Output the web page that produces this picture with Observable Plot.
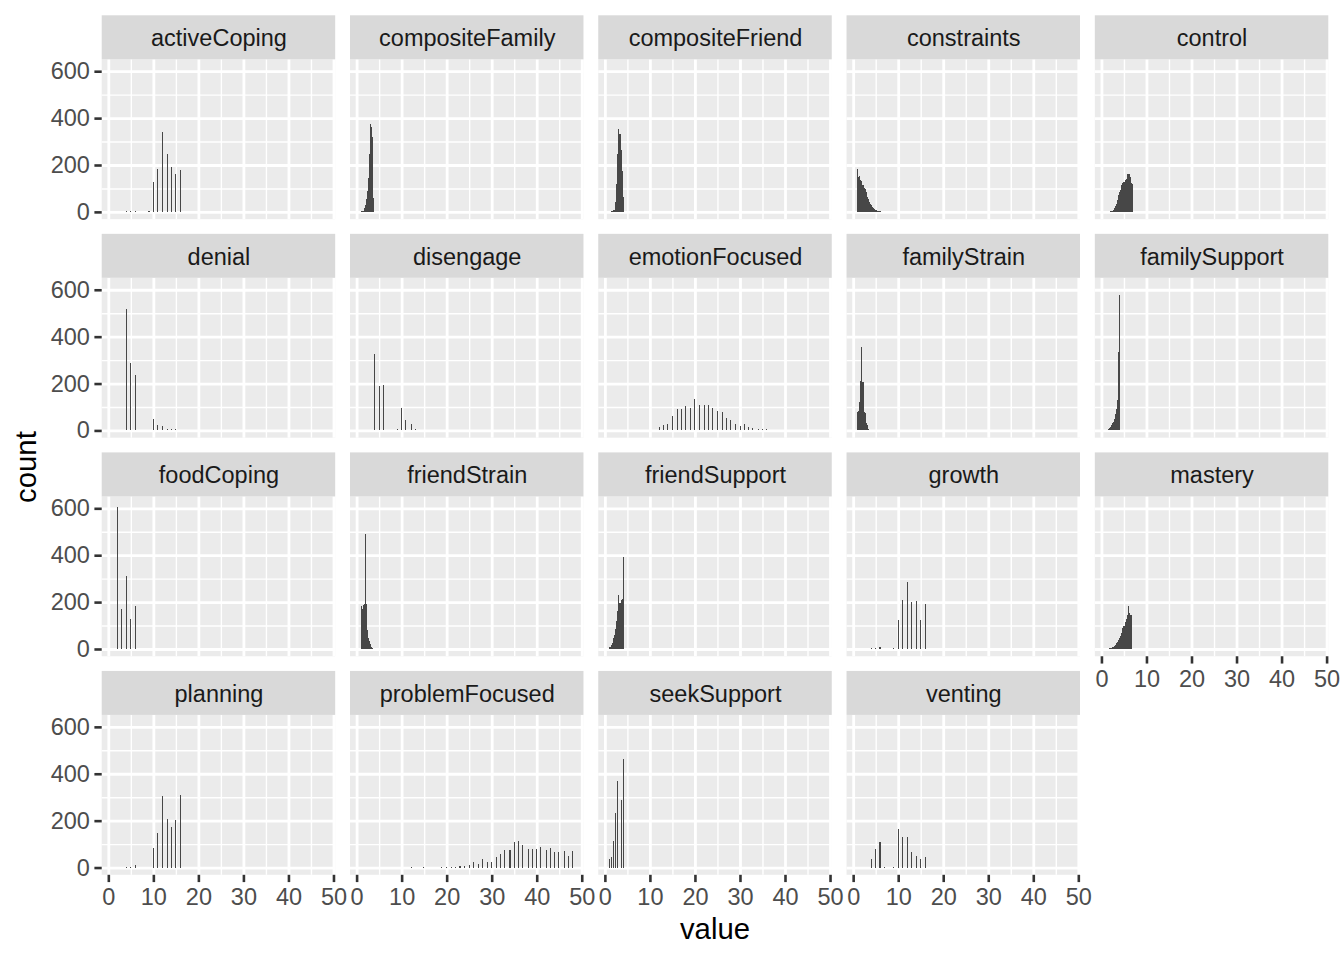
<!DOCTYPE html>
<html><head><meta charset="utf-8">
<script src="https://cdn.jsdelivr.net/npm/d3@7"></script>
<script src="https://cdn.jsdelivr.net/npm/@observablehq/plot@0.6"></script>
<style>
body{margin:0;background:#fff;}
#wrap{width:1344px;height:960px;}
</style></head><body><div id="wrap"></div>
<script>
// ---- facet order (facet_wrap, 5 columns) ----
const facetNames = ["activeCoping","compositeFamily","compositeFriend","constraints","control",
  "denial","disengage","emotionFocused","familyStrain","familySupport",
  "foodCoping","friendStrain","friendSupport","growth","mastery",
  "planning","problemFocused","seekSupport","venting"];

// ---- histogram counts per facet: [value, count] ----
const activeCoping = [[4,3],[5,2],[6,3],[9,3],[10,126],[11,181],[12,339],[13,245],[14,190],[15,160],[16,177]];
const compositeFamily = [[1.00,2],[1.24,3],[1.47,4],[1.71,18],[1.94,30],[2.18,55],[2.42,90],[2.65,145],[2.89,245],[3.13,376],[3.36,364],[3.60,320],[3.83,60]];
const compositeFriend = [[1.47,3],[1.71,4],[1.94,6],[2.18,10],[2.42,43],[2.65,120],[2.89,248],[3.13,352],[3.36,333],[3.60,262],[3.83,174],[4.07,64]];
const constraints = [[1.00,181],[1.24,149],[1.47,152],[1.71,138],[1.94,130],[2.18,113],[2.42,102],[2.65,99],[2.89,85],[3.13,64],[3.36,54],[3.60,43],[3.83,35],[4.07,28],[4.31,21],[4.54,17],[4.78,14],[5.02,10],[5.25,7],[5.49,4],[5.72,3],[5.96,2],[6.20,1],[6.43,1]];
const control = [[1.00,1],[1.94,3],[2.18,4],[2.42,5],[2.65,7],[2.89,18],[3.13,25],[3.36,33],[3.60,50],[3.83,71],[4.07,85],[4.31,95],[4.54,113],[4.78,123],[5.02,128],[5.25,135],[5.49,142],[5.72,160],[5.96,163],[6.20,160],[6.43,150],[6.67,125],[6.90,120]];
const denial = [[4,519],[5,286],[6,236],[7,4],[9,4],[10,48],[11,23],[12,18],[13,6],[14,6],[15,5],[16,3]];
const disengage = [[4,324],[5,188],[6,192],[7,4],[9,7],[10,95],[11,45],[12,28],[13,7],[14,4],[15,3],[16,3]];
const emotionFocused = [[12,16],[13,23],[14,28],[15,62],[16,91],[17,91],[18,105],[19,95],[20,133],[21,109],[22,109],[23,109],[24,96],[25,85],[26,78],[27,51],[28,44],[29,27],[30,21],[31,27],[32,14],[33,10],[34,7],[35,6],[36,6],[37,4],[38,4],[39,4],[40,3],[41,2],[42,2],[43,2],[45,2],[46,1],[48,1]];
const familyStrain = [[1.00,80],[1.24,85],[1.47,120],[1.71,210],[1.94,357],[2.18,205],[2.42,80],[2.65,75],[2.89,30],[3.13,25],[3.36,8],[3.60,4],[3.83,2]];
const familySupport = [[1.00,3],[1.24,4],[1.47,6],[1.71,10],[1.94,15],[2.18,22],[2.42,30],[2.65,38],[2.89,50],[3.13,70],[3.36,90],[3.60,130],[3.83,334],[4.07,579]];
const foodCoping = [[2,607],[3,172],[4,310],[5,130],[6,185]];
const friendStrain = [[1.00,184],[1.24,172],[1.47,186],[1.71,190],[1.94,491],[2.18,190],[2.42,80],[2.65,45],[2.89,35],[3.13,22],[3.36,8],[3.60,3]];
const friendSupport = [[1.00,8],[1.24,10],[1.47,15],[1.71,25],[1.94,45],[2.18,60],[2.42,85],[2.65,120],[2.89,160],[3.13,230],[3.36,195],[3.60,210],[3.83,215],[4.07,393]];
const growth = [[4,4],[5,4],[6,10],[7,2],[9,3],[10,123],[11,210],[12,287],[13,201],[14,206],[15,125],[16,191]];
const mastery = [[1.00,1],[1.24,2],[1.47,2],[1.71,3],[1.94,4],[2.18,6],[2.42,8],[2.65,10],[2.89,14],[3.13,18],[3.36,24],[3.60,30],[3.83,38],[4.07,46],[4.31,56],[4.54,70],[4.78,88],[5.02,100],[5.25,115],[5.49,128],[5.72,146],[5.96,184],[6.20,152],[6.43,146],[6.67,145]];
const planning = [[4,3],[5,2],[6,11],[10,83],[11,146],[12,303],[13,206],[14,172],[15,201],[16,311]];
const problemFocused = [[12,1],[15,2],[19,2],[20,2],[21,2],[22,3],[23,5],[24,5],[25,11],[26,25],[27,15],[28,37],[29,22],[30,25],[31,46],[32,58],[33,75],[34,75],[35,110],[36,113],[37,97],[38,79],[39,79],[40,79],[41,87],[42,76],[43,83],[44,68],[45,68],[46,72],[47,49],[48,72]];
const seekSupport = [[1,37],[1.5,44],[2,113],[2.5,234],[3,370],[3.5,290],[4,463]];
const venting = [[4,37],[5,79],[6,110],[7,3],[9,3],[10,163],[11,130],[12,130],[13,65],[14,51],[15,37],[16,44]];

// ---- ticks ----
const xTicks = [0,10,20,30,40,50];
const xMinorTicks = [5,15,25,35,45];
const yTicks = [0,200,400,600];
const yMinorTicks = [100,300,500];

// ---- histogram binning (200 bins over 1..48) ----
const binMin = 1, binMax = 48, nBins = 200;
const bw = (binMax - binMin) / (nBins - 1);

const seriesByName = {activeCoping, compositeFamily, compositeFriend, constraints, control,
  denial, disengage, emotionFocused, familyStrain, familySupport, foodCoping, friendStrain,
  friendSupport, growth, mastery, planning, problemFocused, seekSupport, venting};

const xDomain = [-1.47, 50.38];
const yLo = -31, yHi = 651, yStrip = 838.5;
const NCOL = 5;

const panels = facetNames.map((name, i) => ({name, col: i % NCOL, row: Math.floor(i / NCOL)}));
const bars = panels.flatMap(p => seriesByName[p.name].map(([v, c]) => {
  const k = Math.round((v - binMin) / bw);
  const center = binMin + k * bw;
  return {col: p.col, row: p.row, x1: center - bw / 2, x2: center + bw / 2, count: c};
}));
const cross = (ticks) => panels.flatMap(p => ticks.map(v => ({col: p.col, row: p.row, v})));

const W = 1344, H = 960, mL = 101.7, mR = 15.7, mT = 15.3, mB = 85.2;
const font = "'Liberation Sans', Arial, Helvetica, sans-serif";

const svg = Plot.plot({
  width: W, height: H,
  marginLeft: mL, marginRight: mR, marginTop: mT, marginBottom: mB,
  style: {fontFamily: font, fontSize: "23.5px", background: "white", overflow: "visible"},
  fx: {domain: [0,1,2,3,4], paddingInner: 0.0596, paddingOuter: 0, round: false, axis: null},
  fy: {domain: [0,1,2,3], paddingInner: 0.0672, paddingOuter: 0, round: false, axis: null},
  x: {domain: xDomain, axis: null},
  y: {domain: [yLo, yStrip], axis: null},
  marks: [
    // panel background
    Plot.rect(panels, {fx: "col", fy: "row", x1: () => xDomain[0], x2: () => xDomain[1], y1: () => yLo, y2: () => yHi, fill: "#EBEBEB"}),
    // minor grid
    Plot.ruleX(cross(xMinorTicks), {fx: "col", fy: "row", x: "v", y1: () => yLo, y2: () => yHi, stroke: "white", strokeWidth: 1.4}),
    Plot.ruleY(cross(yMinorTicks), {fx: "col", fy: "row", y: "v", x1: () => xDomain[0], x2: () => xDomain[1], stroke: "white", strokeWidth: 1.4}),
    // major grid
    Plot.ruleX(cross(xTicks), {fx: "col", fy: "row", x: "v", y1: () => yLo, y2: () => yHi, stroke: "white", strokeWidth: 2.8}),
    Plot.ruleY(cross(yTicks), {fx: "col", fy: "row", y: "v", x1: () => xDomain[0], x2: () => xDomain[1], stroke: "white", strokeWidth: 2.8}),
    // histogram bars
    Plot.rect(bars, {fx: "col", fy: "row", x1: "x1", x2: "x2", y1: () => 0, y2: "count", fill: "#474747", shapeRendering: "crispEdges"}),
    // strips
    Plot.rect(panels, {fx: "col", fy: "row", x1: () => xDomain[0], x2: () => xDomain[1], y1: () => yHi, y2: () => yStrip, fill: "#D9D9D9"}),
    Plot.text(panels, {fx: "col", fy: "row", x: () => (xDomain[0] + xDomain[1]) / 2, y: () => (yHi + yStrip) / 2, text: "name", fill: "#1A1A1A", fontSize: 23.5, dy: 1}),
    // axes
    Plot.axisY({ticks: yTicks, tickSize: 7.3, tickPadding: 5, strokeWidth: 2.6, stroke: "#333333", color: "#4D4D4D", fontSize: 23.5, label: null}),
    Plot.axisX({ticks: xTicks, tickSize: 7.3, tickPadding: 6, strokeWidth: 2.6, stroke: "#333333", color: "#4D4D4D", fontSize: 23.5, label: null})
  ]
});

const s = d3.select(svg);
s.append("text")
  .attr("x", (mL + W - mR) / 2).attr("y", 939)
  .attr("text-anchor", "middle").attr("font-family", font).attr("font-size", 29.3).attr("fill", "#000")
  .text("value");
s.append("text")
  .attr("transform", `translate(36,${(59.3 + (H - mB)) / 2}) rotate(-90)`)
  .attr("text-anchor", "middle").attr("font-family", font).attr("font-size", 29.3).attr("fill", "#000")
  .text("count");
document.getElementById("wrap").appendChild(svg);
</script></body></html>
